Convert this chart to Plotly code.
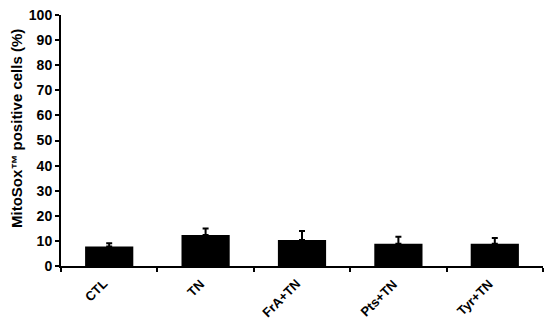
import plotly.graph_objects as go

categories = ["CTL", "TN", "FrA+TN", "Pts+TN", "Tyr+TN"]
values = [7.8, 12.4, 10.4, 8.9, 8.9]
errors = [1.3, 2.5, 3.5, 2.8, 2.3]
y_ticks = [0, 10, 20, 30, 40, 50, 60, 70, 80, 90, 100]
y_title = "MitoSox\u2122 positive cells (%)"

font_family = "Arial, Liberation Sans, sans-serif"
positions = list(range(len(categories)))
boundaries = [p - 0.5 for p in positions] + [positions[-1] + 0.5]

fig = go.Figure(
    go.Bar(
        x=positions,
        y=values,
        width=0.5,
        marker=dict(color="black", line=dict(width=0)),
        error_y=dict(
            type="data",
            symmetric=False,
            array=errors,
            arrayminus=[0] * len(errors),
            color="black",
            thickness=2,
            width=3,
        ),
    )
)

fig.update_layout(
    width=550,
    height=326,
    margin=dict(l=61, r=7, t=15, b=60),
    plot_bgcolor="white",
    paper_bgcolor="white",
    showlegend=False,
    font=dict(family=font_family, color="black"),
    xaxis=dict(
        range=[-0.5, 4.5],
        tickvals=boundaries,
        showticklabels=False,
        ticks="outside",
        ticklen=4,
        tickwidth=2,
        tickcolor="black",
        showline=True,
        linecolor="black",
        linewidth=2,
        showgrid=False,
        zeroline=False,
        automargin=False,
    ),
    yaxis=dict(
        range=[0, 100],
        tickvals=y_ticks,
        ticks="outside",
        ticklen=4,
        tickwidth=2,
        tickcolor="black",
        showline=True,
        linecolor="black",
        linewidth=2,
        showgrid=False,
        zeroline=False,
        automargin=False,
        tickfont=dict(size=14, family=font_family, weight="bold"),
    ),
)

fig.add_annotation(
    x=0, y=0.546, xref="paper", yref="paper",
    xshift=-44,
    text="<b>" + y_title + "</b>",
    textangle=-90,
    showarrow=False,
    xanchor="center", yanchor="middle",
    font=dict(size=15, family=font_family, color="black"),
)

for pos, label in zip(positions, categories):
    fig.add_annotation(
        x=pos + 0.04, y=0, xref="x", yref="paper",
        yshift=-8,
        text="<b>" + label + "</b>",
        textangle=-45,
        showarrow=False,
        xanchor="right", yanchor="top",
        font=dict(size=13, family=font_family, color="black"),
    )

fig.write_html(
    "out.html",
    config={"displayModeBar": False},
    post_script="document.body.style.margin='0';document.body.style.overflow='hidden';",
)
